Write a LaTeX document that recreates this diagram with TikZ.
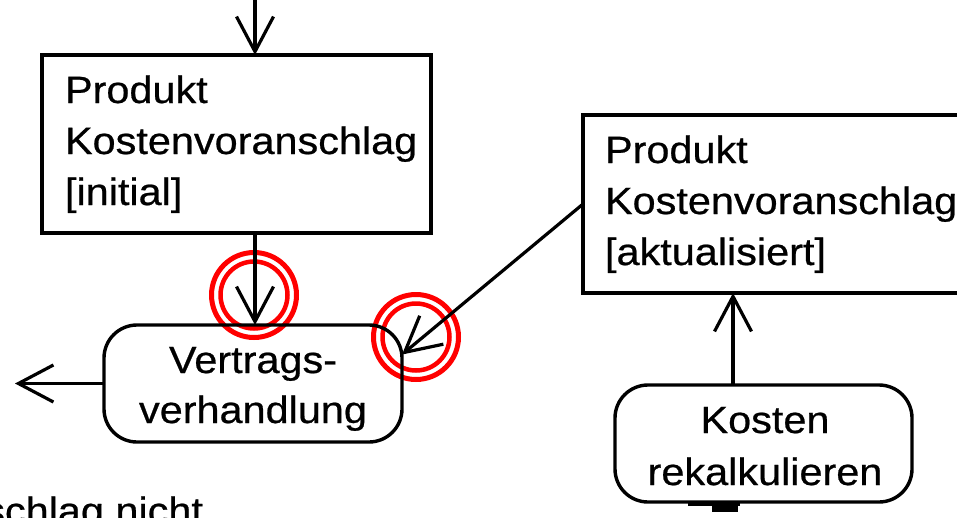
\documentclass[tikz,border=0pt]{standalone}
\usepackage{fontspec}
\setmainfont{Liberation Sans}[FakeStretch=1.09,FakeBold=0.6]
\usetikzlibrary{arrows.meta}
\tikzset{
  objbox/.style={draw, line width=3.4pt, rectangle, inner sep=0pt, outer sep=0pt},
  actbox/.style={draw, line width=3.4pt, rectangle, rounded corners=33pt, inner sep=0pt, outer sep=0pt},
  flow/.style={line width=3.2pt, -{Straight Barb[length=35pt,width=37pt]}},
  txt/.style={inner sep=0pt, outer sep=0pt, font=\fontsize{38}{51}\selectfont},
  ring/.style={draw=red, line width=5pt},
  ringin/.style={draw=red, line width=4.5pt}
}
\begin{document}
\begin{tikzpicture}[x=1pt,y=-1pt]
\useasboundingbox (0,0) rectangle (957,517);
\clip (0,0) rectangle (957,517);
% highlight rings (behind)
\draw[ring] (254,295) circle (42.5);
\draw[ringin] (254,295) circle (33.5);
\draw[ring] (416,337) circle (42.5);
\draw[ringin] (416,337) circle (33.5);
% boxes
\node[objbox, minimum width=389pt, minimum height=178pt] (b1) at (236.5,144) {};
\node[objbox, minimum width=389pt, minimum height=178pt] (b2) at (777.5,204) {};
\node[actbox, minimum width=298pt, minimum height=117pt] (v) at (253,383.5) {};
\node[actbox, minimum width=297pt, minimum height=117pt] (k) at (763.5,443.5) {};
% texts
\node[txt, anchor=base west] (b1a) at (65,103) {Produkt};
\node[txt, anchor=base west] (b1b) at (65,154) {Kostenvoranschlag};
\node[txt, anchor=base west] (b1c) at (65,205) {[initial]};
\node[txt, anchor=base west] (b2a) at (605,163) {Produkt};
\node[txt, anchor=base west] (b2b) at (605,214) {Kostenvoranschlag};
\node[txt, anchor=base west] (b2c) at (605,265) {[aktualisiert]};
\node[txt, anchor=base] (va) at (253,373) {Vertrags-};
\node[txt, anchor=base] (vb) at (253,423) {verhandlung};
\node[txt, anchor=base] (ka) at (765,433) {Kosten};
\node[txt, anchor=base] (kb) at (765,485) {rekalkulieren};
\node[txt, anchor=base east] (bl) at (203,524) {schlag nicht};
% connectors
\coordinate (top) at (255,-10);
\coordinate (lft) at (15,383.5);
\coordinate (kx) at (733,0);
\draw[flow] (top) -- (top |- b1.north);
\draw[flow] (top |- b1.south) -- (top |- v.north);
\draw[flow] (v.west) -- (lft);
\draw[flow] (b2.west) -- (v.11);
\draw[flow] (kx |- k.north) -- (kx |- b2.south);
% cut-off fragment at the bottom
\draw[line width=3pt] (688,504) -- (740,504);
\fill (712,505) rectangle (738,512);
\end{tikzpicture}
\end{document}
